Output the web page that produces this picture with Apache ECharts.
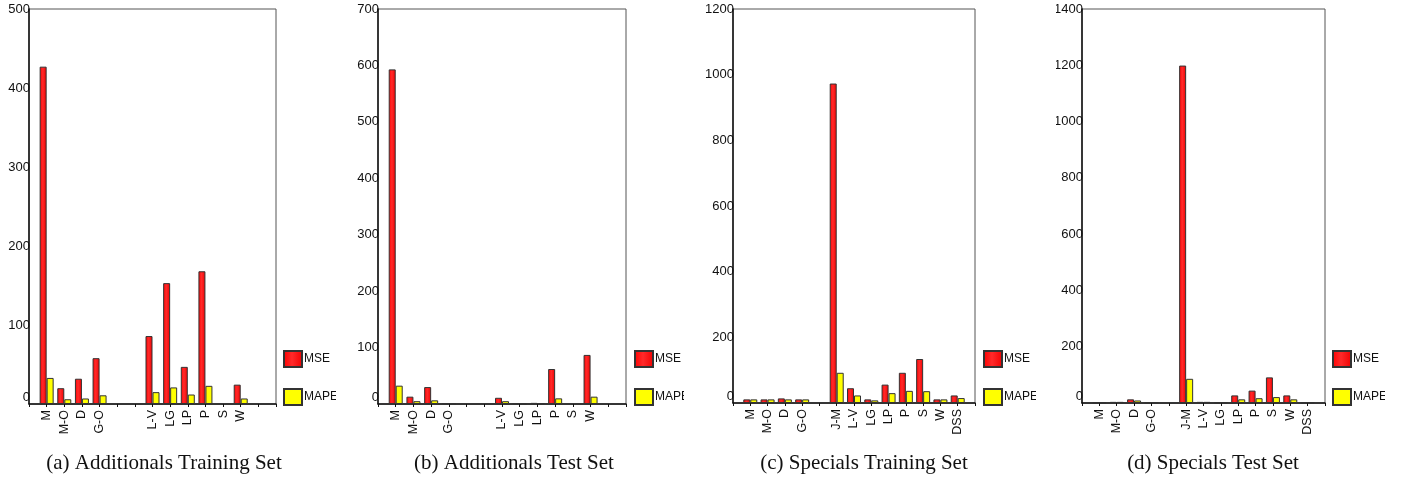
<!DOCTYPE html>
<html>
<head>
<meta charset="utf-8">
<script src="https://cdn.jsdelivr.net/npm/echarts@6/dist/echarts.min.js"></script>
<style>
  html, body { margin: 0; padding: 0; background: #fff; }
  .box { position: relative; width: 1408px; height: 480px; }
  .echart { position: absolute; top: 0; height: 480px; overflow: hidden; }
  #chartA { left: 0; width: 336px; }
  #chartB { left: 352px; width: 332px; }
  #chartC { left: 704px; width: 332px; }
  #chartD { left: 1056px; width: 329px; }
</style>
</head>
<body>
<div class="box">
  <div class="echart" id="chartA"></div>
  <div class="echart" id="chartB"></div>
  <div class="echart" id="chartC"></div>
  <div class="echart" id="chartD"></div>
</div>
<script>
// model names, blank = no model in that slot
const additionalCats = ['M', 'M-O', 'D', 'G-O', '', '', 'L-V', 'LG', 'LP', 'P', 'S', 'W', ''];
const specialCats    = ['M', 'M-O', 'D', 'G-O', '', 'J-M', 'L-V', 'LG', 'LP', 'P', 'S', 'W', 'DSS'];

const addTrainMSE   = [427, 20, 32, 58, null, null, 86, 153, 47, 168, null, 24.5, null];
const addTrainMAPE  = [33, 6, 7, 11, null, null, 15, 21, 12, 23, null, 7, null];
const addTestMSE    = [593, 13, 30, 1, null, null, 11, 1, 2, 62, null, 87, null];
const addTestMAPE   = [32.5, 5, 6.5, 1, null, null, 5, 0.5, 1, 10, null, 13, null];
const specTrainMSE  = [11, 11, 14, 11, null, 973, 45, 11, 56, 92, 134, 11, 23];
const specTrainMAPE = [11, 11, 11, 11, null, 92, 23, 8, 30, 37, 36, 11, 15];
const specTestMSE   = [1.5, 4, 13, 1.5, null, 1199, 4, 1.5, 27, 44, 91, 27, 1.5];
const specTestMAPE  = [1.5, 4, 9, 1.5, null, 86, 4, 1.5, 13, 17, 21, 13, 1.5];

// y axis max / step per panel
const yMax  = [500, 700, 1200, 1400];
const yStep = [100, 100, 200, 200];

const captions = [
  '(a) Additionals Training Set',
  '(b) Additionals Test Set',
  '(c) Specials Training Set',
  '(d) Specials Test Set'
];

function makeOption (p) {
  // empty slot at each end so the first/last bars sit away from the frame
  const cats = [''].concat(p.cats, ['']);
  const pad = (arr) => [null].concat(arr, [null]);
  const red = new echarts.graphic.LinearGradient(0, 0, 1, 0, [
    { offset: 0, color: '#ff0000' },
    { offset: 0.45, color: '#ff2a2a' },
    { offset: 1, color: '#f00000' }
  ]);
  return {
    animation: false,
    grid: {
      left: p.grid[0], top: 9, width: p.grid[1], height: p.grid[2],
      outerBoundsMode: 'none',
      containLabel: false,
      show: true, borderColor: '#555', borderWidth: 1, backgroundColor: 'transparent'
    },
    legend: {
      orient: 'vertical',
      left: p.legendLeft,
      top: 350,
      padding: 0,
      itemWidth: 18,
      itemHeight: 16,
      itemGap: 20,
      icon: 'rect',
      textStyle: { fontFamily: 'Liberation Sans', fontSize: 12, color: '#111', padding: [0, 0, 0, -3] },
      data: ['MSE', 'MAPE']
    },
    xAxis: {
      type: 'category',
      boundaryGap: false,
      data: cats,
      axisLine: { lineStyle: { color: '#111', width: 1.5 } },
      axisTick: { show: true, length: 3, interval: 0, lineStyle: { color: '#111' } },
      axisLabel: {
        interval: 0, rotate: 90, margin: 6,
        fontFamily: 'Liberation Sans', fontSize: 12.5, color: '#111'
      },
      splitLine: { show: false }
    },
    yAxis: {
      type: 'value',
      min: 0,
      max: p.max,
      interval: p.step,
      axisLine: { show: true, lineStyle: { color: '#111', width: 1.5 } },
      axisTick: { show: false },
      splitLine: { show: false },
      axisLabel: {
        margin: -1,
        fontFamily: 'Liberation Sans', fontSize: 13, color: '#111',
        formatter: (v) => v === 0 ? '{z|0}' : String(v),
        rich: { z: { fontFamily: 'Liberation Sans', fontSize: 13, color: '#111', padding: [0, 0, 14, 0] } }
      }
    },
    series: [
      {
        name: 'MSE', type: 'bar', barWidth: 7, barGap: '0%',
        itemStyle: { color: red, borderColor: '#333', borderWidth: 1 },
        data: pad(p.mse)
      },
      {
        name: 'MAPE', type: 'bar', barWidth: 7, barGap: '0%',
        itemStyle: { color: '#ffff00', borderColor: '#333', borderWidth: 1 },
        data: pad(p.mape)
      }
    ],
    graphic: [{
      type: 'text',
      x: p.capX, y: 463,
      style: {
        text: p.caption,
        font: '21px "Liberation Serif"',
        fill: '#111',
        align: 'center',
        verticalAlign: 'middle'
      }
    }]
  };
}

const panels = [
  { id: 'chartA', cats: additionalCats, mse: addTrainMSE, mape: addTrainMAPE, grid: [29, 247, 395], legendLeft: 283, capX: 164 },
  { id: 'chartB', cats: additionalCats, mse: addTestMSE, mape: addTestMAPE, grid: [26, 248, 395], legendLeft: 282, capX: 162 },
  { id: 'chartC', cats: specialCats, mse: specTrainMSE, mape: specTrainMAPE, grid: [29, 242, 394], legendLeft: 279, capX: 160 },
  { id: 'chartD', cats: specialCats, mse: specTestMSE, mape: specTestMAPE, grid: [26, 243, 394], legendLeft: 276, capX: 157 }
];

panels.forEach((p, i) => {
  p.max = yMax[i];
  p.step = yStep[i];
  p.caption = captions[i];
  const myChart = echarts.init(document.getElementById(p.id), null, { renderer: 'canvas' });
  myChart.setOption(makeOption(p));
});
</script>
</body>
</html>
